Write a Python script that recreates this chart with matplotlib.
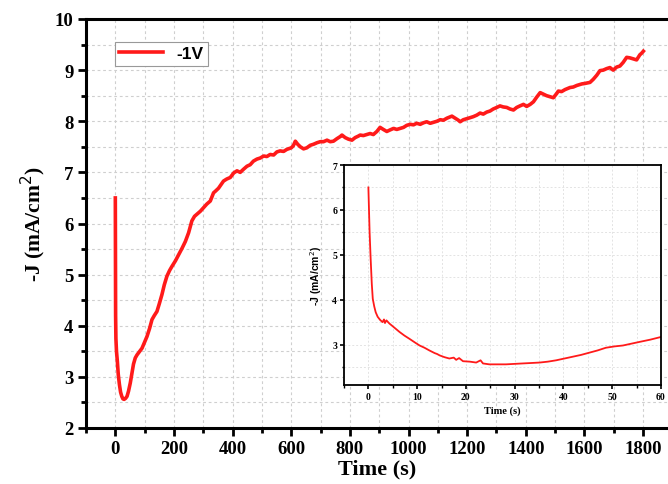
import matplotlib
matplotlib.use("Agg")
import matplotlib.pyplot as plt
from matplotlib.ticker import MultipleLocator

# ---------------- data ----------------
main_t = [0, 0.5, 1, 2, 4, 7, 10, 14, 18, 22, 26, 30, 35, 40, 45, 51, 56, 62, 68, 74,
          82, 91, 100, 108, 117, 125, 133, 142, 150, 159, 167, 176, 185, 193, 205, 216,
          228, 239, 250, 261, 270, 278, 290, 301, 312, 324, 335, 341, 352, 369, 380, 392,
          404, 415, 426, 437, 449, 460, 471, 483, 494, 506, 517, 528, 540, 551, 562, 574,
          585, 600, 607, 614, 622, 631, 642, 653, 665, 676, 688, 699, 710, 722, 733, 744,
          756, 767, 773, 784, 795, 807, 818, 829, 835, 846, 858, 869, 880, 892, 903, 914,
          926, 937, 949, 960, 972, 983, 994, 1006, 1017, 1028, 1040, 1051, 1062, 1074,
          1085, 1097, 1108, 1119, 1131, 1148, 1159, 1170, 1176, 1187, 1199, 1210, 1221,
          1233, 1244, 1255, 1267, 1278, 1289, 1301, 1312, 1323, 1335, 1346, 1358, 1369,
          1380, 1392, 1403, 1415, 1426, 1437, 1449, 1460, 1471, 1483, 1494, 1505, 1511,
          1522, 1534, 1551, 1562, 1574, 1591, 1602, 1619, 1630, 1642, 1653, 1664, 1676,
          1687, 1698, 1710, 1721, 1732, 1744, 1755, 1766, 1778, 1789, 1795, 1801]
main_j = [6.5, 5.3, 4.2, 3.75, 3.5, 3.3, 3.05, 2.85, 2.7, 2.62, 2.57, 2.56, 2.58, 2.62,
          2.72, 2.88, 3.05, 3.25, 3.37, 3.43, 3.49, 3.56, 3.68, 3.79, 3.95, 4.12, 4.2,
          4.28, 4.43, 4.61, 4.8, 4.97, 5.08, 5.16, 5.27, 5.39, 5.52, 5.65, 5.82, 6.05,
          6.14, 6.18, 6.24, 6.31, 6.38, 6.44, 6.6, 6.63, 6.69, 6.83, 6.87, 6.9, 6.99,
          7.03, 7.0, 7.06, 7.12, 7.15, 7.22, 7.26, 7.28, 7.32, 7.31, 7.35, 7.34, 7.4,
          7.42, 7.41, 7.45, 7.48, 7.52, 7.61, 7.55, 7.5, 7.46, 7.48, 7.53, 7.55, 7.58,
          7.6, 7.6, 7.63, 7.6, 7.61, 7.66, 7.7, 7.73, 7.68, 7.65, 7.63, 7.68, 7.71, 7.73,
          7.72, 7.74, 7.76, 7.74, 7.8, 7.88, 7.84, 7.8, 7.83, 7.86, 7.84, 7.86, 7.88,
          7.92, 7.94, 7.93, 7.96, 7.94, 7.97, 7.99, 7.96, 7.98, 8.0, 8.03, 8.02, 8.06,
          8.1, 8.06, 8.02, 7.99, 8.03, 8.05, 8.07, 8.09, 8.12, 8.16, 8.14, 8.18, 8.2,
          8.24, 8.27, 8.3, 8.28, 8.27, 8.24, 8.22, 8.27, 8.3, 8.33, 8.29, 8.33, 8.38,
          8.47, 8.56, 8.53, 8.5, 8.48, 8.46, 8.54, 8.59, 8.58, 8.62, 8.66, 8.67, 8.7,
          8.73, 8.74, 8.76, 8.82, 8.9, 8.99, 9.0, 9.03, 9.05, 9.0, 9.06, 9.08, 9.15,
          9.25, 9.24, 9.22, 9.2, 9.3, 9.33, 9.37]

inset_t = [0, 0.1, 0.25, 0.47, 0.7, 0.9, 1.2, 1.5, 1.9, 2.4, 2.9, 3.2, 3.4, 3.7, 4.3,
           5.3, 6.4, 7.4, 8.4, 9.5, 10.5, 11.5, 12.5, 13.6, 14.1, 14.6, 15.6, 16.6,
           17.5, 18.0, 18.6, 19.4, 20.8, 22.1, 23.0, 23.5, 24.8, 26.5, 28.2, 29.9, 31.6,
           33.4, 35.1, 36.8, 38.5, 40.2, 41.9, 43.6, 45.3, 47.0, 48.7, 50.5, 52.2, 53.9,
           55.6, 57.8, 60]
inset_j = [6.5, 6.1, 5.5, 4.9, 4.35, 4.02, 3.85, 3.72, 3.62, 3.55, 3.5, 3.56, 3.48,
           3.54, 3.47, 3.38, 3.28, 3.2, 3.13, 3.05, 2.98, 2.93, 2.87, 2.81, 2.79, 2.76,
           2.72, 2.69, 2.71, 2.66, 2.7, 2.63, 2.62, 2.6, 2.65, 2.58, 2.56, 2.56, 2.56,
           2.57, 2.58, 2.59, 2.6, 2.62, 2.65, 2.69, 2.73, 2.77, 2.82, 2.87, 2.93, 2.96,
           2.98, 3.02, 3.06, 3.11, 3.17]

series_label = "-1V"
main_xticks = [0, 200, 400, 600, 800, 1000, 1200, 1400, 1600, 1800]
main_yticks = [2, 3, 4, 5, 6, 7, 8, 9, 10]
inset_xticks = [0, 10, 20, 30, 40, 50, 60]
inset_yticks = [3, 4, 5, 6, 7]

# ---------------- figure ----------------
serif = "Liberation Serif"
sans = "Liberation Sans"
red = "#ff1a1a"

fig = plt.figure(figsize=(6.68, 4.85), dpi=100)
ax = fig.add_axes([86 / 668, 56 / 485, 1 - 86 / 668, (429 - 20) / 485])

ax.plot(main_t, main_j, color=red, lw=2.6, label=series_label, zorder=3)
ax.set_xlim(-100, 1885)
ax.set_ylim(2, 10)
ax.set_xticks(main_xticks)
ax.set_yticks(main_yticks)
ax.xaxis.set_minor_locator(MultipleLocator(100))
ax.yaxis.set_minor_locator(MultipleLocator(0.5))
ax.grid(True, which="both", color="#cfcfcf", ls=(0, (2.5, 2.5)), lw=0.8)
ax.set_axisbelow(True)
for s in ["left", "bottom", "top"]:
    ax.spines[s].set_linewidth(2.2)
ax.spines["right"].set_visible(False)
ax.tick_params(which="major", direction="out", length=6, width=2, labelsize=13.5, pad=3)
ax.tick_params(which="minor", direction="out", length=3.5, width=2)
for lab in ax.get_xticklabels() + ax.get_yticklabels():
    lab.set_fontfamily(serif)
    lab.set_fontweight("bold")
ax.set_xlabel("Time (s)", fontfamily=serif, fontweight="bold", fontsize=16, labelpad=1)
ax.set_ylabel("-J (mA/cm$^2$)", fontfamily=serif, fontweight="bold", fontsize=15.5, labelpad=5)
leg = ax.legend(loc="upper left", bbox_to_anchor=(0.05, 0.944), borderaxespad=0,
                fancybox=False, framealpha=1, edgecolor="#999999", handlelength=2.5,
                handletextpad=0.8, borderpad=0.25,
                prop={"family": sans, "weight": "bold", "size": 12.5})
leg.get_frame().set_linewidth(0.8)

# ---------------- inset ----------------
ins = fig.add_axes([344 / 668, (485 - 386) / 485, (661 - 344) / 668, (386 - 166) / 485])
ins.set_facecolor("white")
ins.plot(inset_t, inset_j, color=red, lw=1.3)
ins.set_xlim(-5, 60)
ins.set_ylim(2.1, 7)
ins.set_xticks(inset_xticks)
ins.set_yticks(inset_yticks)
ins.xaxis.set_minor_locator(MultipleLocator(5))
ins.yaxis.set_minor_locator(MultipleLocator(0.5))
ins.grid(True, which="both", color="#e3e3e3", ls=(0, (2, 2)), lw=0.7)
ins.set_axisbelow(True)
for s in ins.spines.values():
    s.set_linewidth(1.3)
ins.tick_params(which="major", direction="out", length=3, width=1.2, labelsize=7, pad=2)
ins.tick_params(which="minor", direction="out", length=1.8, width=1.0)
for lab in ins.get_xticklabels() + ins.get_yticklabels():
    lab.set_fontfamily(serif)
    lab.set_fontweight("bold")
ins.set_xlabel("Time (s)", fontfamily=serif, fontweight="bold", fontsize=7.5, labelpad=3)
ins.set_ylabel("-J (mA/cm$^2$)", fontfamily=sans, fontweight="bold", fontsize=7.5, labelpad=6)

fig.savefig("out.png", dpi=100)
